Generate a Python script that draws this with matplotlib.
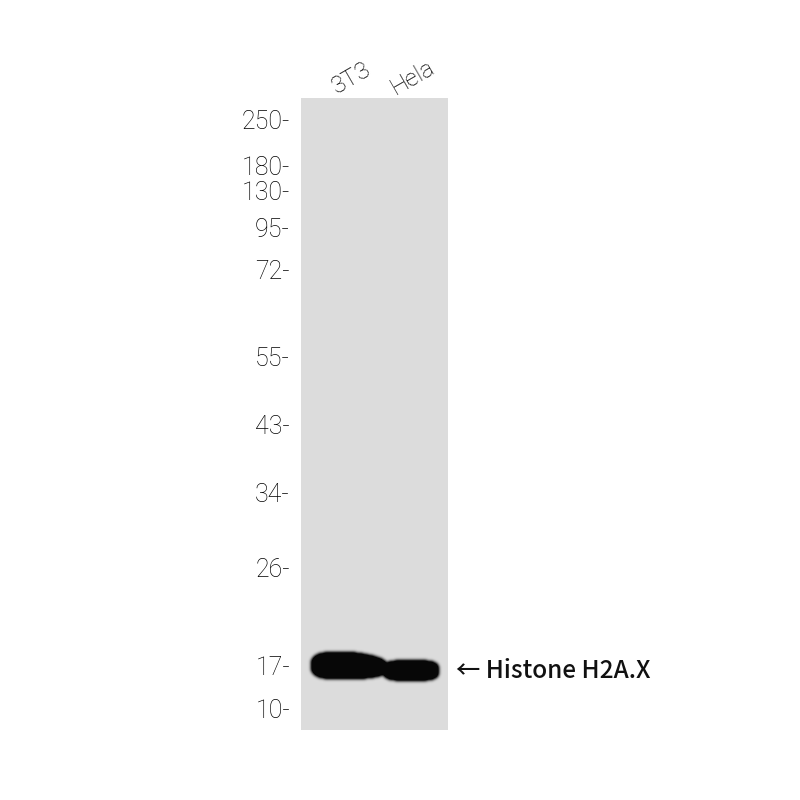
import numpy as np
import matplotlib
matplotlib.use("Agg")
import matplotlib.pyplot as plt

plt.rcParams['font.family'] = ['Roboto', 'DejaVu Sans']

# ladder (kDa) and where each marker sits on the blot (pixel rows)
marker_kda = [250, 180, 130, 95, 72, 55, 43, 34, 26, 17, 10]
marker_row = [122, 168, 193, 230, 272, 359, 427, 495, 570, 668, 711]

# lanes: name, x-centre, half width, band centre row, band half height, taper to the right
lanes = ['3T3', 'Hela']
lane_x = [349, 411]
lane_halfw = [38, 28]
band_row = [665.5, 670.5]
band_halfh = [14.0, 10.5]
band_taper = [0.25, 0.0]

target = 'Histone H2A.X'

membrane = (301, 448, 98, 730)   # left, right, top, bottom
bg_level = 0.862
band_level = 0.03


def blur(img, sigma):
    r = int(3 * sigma)
    k = np.exp(-0.5 * (np.arange(-r, r + 1) / sigma) ** 2)
    k /= k.sum()
    img = np.apply_along_axis(lambda v: np.convolve(np.pad(v, r, mode='edge'), k, 'valid'), 0, img)
    img = np.apply_along_axis(lambda v: np.convolve(np.pad(v, r, mode='edge'), k, 'valid'), 1, img)
    return img


x0, x1, y0, y1 = membrane
xs = np.arange(x0, x1) + 0.5
ys = np.arange(y0, y1) + 0.5
X, Y = np.meshgrid(xs, ys)
dens = np.zeros_like(X)
for cx, a, cy, b, t in zip(lane_x, lane_halfw, band_row, band_halfh, band_taper):
    u = (X - cx) / a
    bb = b * (1 - t * np.clip(u, 0, None))
    cyy = cy + (b - bb) * 0.5
    d = np.abs(u) ** 3.5 + np.abs((Y - cyy) / bb) ** 3.5
    dens = np.maximum(dens, (d <= 1).astype(float))
dens = blur(dens, 1.6)
img = bg_level - (bg_level - band_level) * np.clip(dens * 1.4, 0, 1)

fig = plt.figure(figsize=(8, 8), dpi=100)
ax = fig.add_axes([0, 0, 1, 1])
ax.set_xlim(0, 800)
ax.set_ylim(800, 0)
ax.axis('off')

ax.imshow(img, cmap='gray', vmin=0, vmax=1, extent=(x0, x1, y1, y0),
          interpolation='bilinear', aspect='auto')

for kda, row in zip(marker_kda, marker_row):
    ax.text(290, row, f'{kda}-', ha='right', va='center', fontsize=18,
            fontweight='light', color='#000000')

for name, cx in zip(lanes, lane_x):
    ax.text(cx + 8, 88, name, ha='center', va='bottom', rotation=30,
            rotation_mode='anchor', fontsize=17.5, fontweight='light', color='#000000')

ax.text(456, 671, '\u2190 ' + target, ha='left', va='center', fontsize=17.5,
        fontweight='medium', color='#111111',
        family=['Noto Sans CJK JP', 'DejaVu Sans'])

fig.savefig('out.png', dpi=100, facecolor='white')
